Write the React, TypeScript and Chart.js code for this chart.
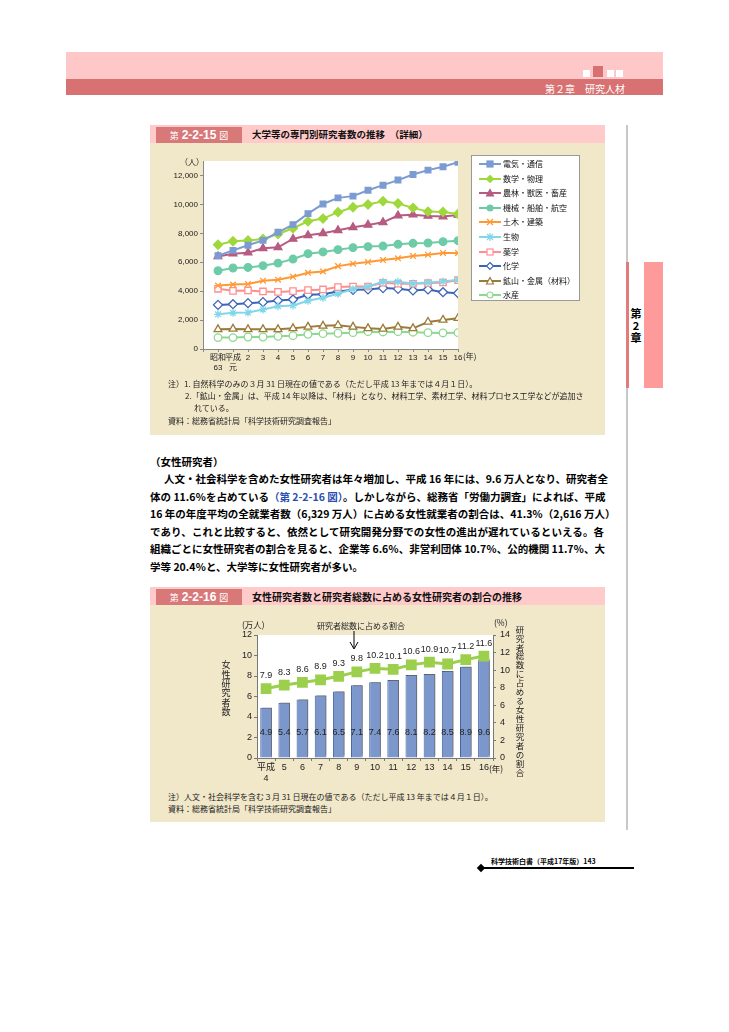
import React, { useEffect, useRef } from 'react';
import { Chart, registerables } from 'chart.js';
Chart.register(...registerables);

const FONT = "'Liberation Sans', 'Noto Sans CJK JP', sans-serif";
const JP = "'Noto Sans CJK JP', sans-serif";

// ---------- Chart 1 data (第2-2-15図) ----------
const years1: (string | string[])[] = [['昭和', '63'], ['平成', '元'], '2', '3', '4', '5', '6', '7', '8', '9', '10', '11', '12', '13', '14', '15', '16'];
const denkiTsushin = [6450, 6820, 7170, 7510, 8070, 8600, 9360, 10030, 10450, 10570, 10980, 11330, 11680, 12070, 12370, 12600, 12920];
const sugakuButsuri = [7210, 7450, 7510, 7610, 7950, 8350, 8830, 9020, 9460, 9800, 9990, 10220, 10060, 9760, 9500, 9480, 9340];
const norinJuiChikusan = [6400, 6590, 6660, 6960, 7030, 7610, 7860, 8000, 8210, 8420, 8580, 8760, 9230, 9290, 9200, 9160, 9270];
const kikaiSenpakuKoku = [5410, 5600, 5640, 5760, 5940, 6220, 6590, 6710, 6870, 7010, 7080, 7120, 7240, 7310, 7330, 7420, 7490];
const dobokuKenchiku = [4390, 4460, 4490, 4720, 4790, 4990, 5270, 5360, 5730, 5900, 6010, 6150, 6270, 6430, 6520, 6640, 6640];
const seibutsu = [2400, 2500, 2520, 2730, 2960, 3010, 3330, 3540, 3820, 4140, 4320, 4650, 4650, 4530, 4600, 4670, 4790];
const yakugaku = [4160, 4020, 4050, 3980, 3950, 4000, 4070, 4120, 4280, 4320, 4320, 4580, 4510, 4510, 4550, 4600, 4760];
const kagaku = [3050, 3100, 3170, 3240, 3350, 3420, 3750, 3790, 3980, 4090, 4120, 4210, 4160, 4050, 4120, 3930, 3860];
const kozanKinzoku = [1360, 1390, 1360, 1360, 1360, 1430, 1530, 1600, 1640, 1530, 1430, 1390, 1530, 1430, 1870, 2010, 2130];
const suisan = [790, 790, 830, 830, 880, 920, 1020, 1060, 1090, 1130, 1200, 1180, 1200, 1160, 1130, 1110, 1130];
const seriesNames1 = ['電気・通信', '数学・物理', '農林・獣医・畜産', '機械・船舶・航空', '土木・建築', '生物', '薬学', '化学', '鉱山・金属（材料）', '水産'];
const seriesData1 = [denkiTsushin, sugakuButsuri, norinJuiChikusan, kikaiSenpakuKoku, dobokuKenchiku, seibutsu, yakugaku, kagaku, kozanKinzoku, suisan];
const y1Ticks = [0, 2000, 4000, 6000, 8000, 10000, 12000];

// ---------- Chart 2 data (第2-2-16図) ----------
const years2: (string | string[])[] = [['平成', '4'], '5', '6', '7', '8', '9', '10', '11', '12', '13', '14', '15', '16'];
const womenResearchers = [4.9, 5.4, 5.7, 6.1, 6.5, 7.1, 7.4, 7.6, 8.1, 8.2, 8.5, 8.9, 9.6];
const womenShare = [7.9, 8.3, 8.6, 8.9, 9.3, 9.8, 10.2, 10.1, 10.6, 10.9, 10.7, 11.2, 11.6];

// styles for chart 1
const styles1 = [
  { color: '#7b9bd2', shape: 'rect', open: false, r: 4 },
  { color: '#9fd83c', shape: 'rectRot', open: false, r: 4.5 },
  { color: '#b65b82', shape: 'triangle', open: false, r: 4.5 },
  { color: '#6dcba8', shape: 'circle', open: false, r: 3.8 },
  { color: '#ff9933', shape: 'crossRot', open: false, r: 4 },
  { color: '#82d6ea', shape: 'star', open: false, r: 4 },
  { color: '#ff8f8f', shape: 'rect', open: true, r: 4.5 },
  { color: '#3d64b8', shape: 'rectRot', open: true, r: 4.5 },
  { color: '#9b7b38', shape: 'triangle', open: true, r: 4.5 },
  { color: '#8fd88f', shape: 'circle', open: true, r: 3.8 },
];

const whiteArea = {
  id: 'whiteArea',
  beforeDraw(chart: any) {
    const { ctx, chartArea: a } = chart;
    ctx.save();
    ctx.fillStyle = '#ffffff';
    ctx.fillRect(a.left, a.top, a.right - a.left, a.bottom - a.top);
    ctx.restore();
  },
};

function LegendIcon({ shape, color, open }: { shape: string; color: string; open: boolean }) {
  const cx = 11, cy = 5;
  const fill = open ? '#fff' : color;
  let m: any = null;
  if (shape === 'rect') m = <rect x={cx - 3} y={cy - 3} width={6} height={6} fill={fill} stroke={color} strokeWidth={1.2} />;
  else if (shape === 'rectRot') m = <polygon points={`${cx},${cy - 3.5} ${cx + 3.5},${cy} ${cx},${cy + 3.5} ${cx - 3.5},${cy}`} fill={fill} stroke={color} strokeWidth={1.2} />;
  else if (shape === 'triangle') m = <polygon points={`${cx},${cy - 3.5} ${cx + 3.5},${cy + 3} ${cx - 3.5},${cy + 3}`} fill={fill} stroke={color} strokeWidth={1.2} />;
  else if (shape === 'circle') m = <circle cx={cx} cy={cy} r={3} fill={fill} stroke={color} strokeWidth={1.2} />;
  else if (shape === 'crossRot') m = <path d={`M${cx - 3} ${cy - 3}L${cx + 3} ${cy + 3}M${cx + 3} ${cy - 3}L${cx - 3} ${cy + 3}`} stroke={color} strokeWidth={1.3} />;
  else if (shape === 'star') m = <path d={`M${cx - 3} ${cy - 3}L${cx + 3} ${cy + 3}M${cx + 3} ${cy - 3}L${cx - 3} ${cy + 3}M${cx} ${cy - 4}L${cx} ${cy + 4}M${cx - 4} ${cy}L${cx + 4} ${cy}`} stroke={color} strokeWidth={1.2} />;
  return (
    <svg width={22} height={10} style={{ display: 'block' }}>
      <line x1={0} y1={cy} x2={22} y2={cy} stroke={color} strokeWidth={2} />
      {m}
    </svg>
  );
}

function T({ x, y, size, children, bold, color, style }: any) {
  return (
    <div style={{ position: 'absolute', left: x, top: y - size * 0.75, fontSize: size, lineHeight: `${size * 1.5}px`, whiteSpace: 'nowrap', fontWeight: bold ? 700 : 400, color: color || '#222', fontFamily: JP, ...(style || {}) }}>
      {children}
    </div>
  );
}

// vertical text: each character stacked, centred on cx, first char centre at y0
function VText({ cx, y0, step, size, text, bold, color }: any) {
  return (
    <>
      {Array.from(text as string).map((ch, i) => (
        <div key={i} style={{ position: 'absolute', left: cx - 10, top: y0 + i * step - size * 0.75, width: 20, textAlign: 'center', fontSize: size, lineHeight: `${size * 1.5}px`, fontWeight: bold ? 700 : 400, color: color || '#222', fontFamily: JP }}>{ch}</div>
      ))}
    </>
  );
}

function ChartTitle({ top, num, title, titleSize }: any) {
  return (
    <>
      <div style={{ position: 'absolute', left: 150, top, width: 455, height: 18, background: '#ffcaca' }} />
      <div style={{ position: 'absolute', left: 156, top: top + 2, width: 86, height: 16, background: '#d87878', color: '#fff', fontFamily: JP, display: 'flex', alignItems: 'center', justifyContent: 'center', gap: 3 }}>
        <span style={{ fontSize: 9 }}>第</span>
        <span style={{ fontSize: 12, fontWeight: 700, fontFamily: FONT }}>{num}</span>
        <span style={{ fontSize: 9 }}>図</span>
      </div>
      <T x={252} y={top + 9} size={titleSize} bold color="#111">{title}</T>
    </>
  );
}

const paraLines = [
  { y: 479, indent: 14, text: <>人文・社会科学を含めた女性研究者は年々増加し、平成 16 年には、9.6 万人となり、研究者全</> },
  { y: 497, indent: 0, text: <>体の 11.6％を占めている<span style={{ color: '#2a4fb0' }}>（第 2-2-16 図）</span>。しかしながら、総務省「労働力調査」によれば、平成</> },
  { y: 514, indent: 0, text: <>16 年の年度平均の全就業者数（6,329 万人）に占める女性就業者の割合は、41.3％（2,616 万人）</> },
  { y: 532, indent: 0, text: <>であり、これと比較すると、依然として研究開発分野での女性の進出が遅れているといえる。各</> },
  { y: 549, indent: 0, text: <>組織ごとに女性研究者の割合を見ると、企業等 6.6％、非営利団体 10.7％、公的機関 11.7％、大</> },
];

export default function App() {
  const c1 = useRef<HTMLCanvasElement>(null);
  const c2 = useRef<HTMLCanvasElement>(null);

  useEffect(() => {
    const tickFont = { size: 8, family: FONT };
    const ch1 = new Chart(c1.current!, {
      type: 'line',
      data: {
        labels: ['', ...years1] as any,
        datasets: seriesData1.map((d, i) => ({
          label: seriesNames1[i],
          data: [null, ...d],
          borderColor: styles1[i].color,
          backgroundColor: styles1[i].open ? '#ffffff' : styles1[i].color,
          pointBorderColor: styles1[i].color,
          pointBackgroundColor: styles1[i].open ? '#ffffff' : styles1[i].color,
          pointStyle: styles1[i].shape as any,
          pointRadius: styles1[i].r,
          pointBorderWidth: 1.3,
          borderWidth: 2,
          tension: 0,
          clip: 0 as any,
        })),
      },
      options: {
        animation: false,
        responsive: false,
        maintainAspectRatio: false,
        layout: { padding: { top: 16, right: 147, left: 0, bottom: 0 } },
        plugins: { legend: { display: false }, tooltip: { enabled: false } },
        scales: {
          x: {
            offset: false,
            grid: { display: true, drawOnChartArea: false, tickLength: 3, color: '#888' },
            border: { display: true, color: '#888' },
            ticks: { autoSkip: false, maxRotation: 0, minRotation: 0, font: tickFont, color: '#222', padding: 1 },
            afterFit: (s: any) => { s.height = 31; },
          },
          y: {
            min: 0,
            max: 13000,
            grid: { display: true, drawOnChartArea: false, tickLength: 3, color: '#888' },
            border: { display: true, color: '#888' },
            ticks: { font: tickFont, color: '#222', padding: 2, callback: (v: any) => Number(v).toLocaleString('en-US') },
            afterBuildTicks: (s: any) => { s.ticks = y1Ticks.map((v) => ({ value: v })); },
            afterFit: (s: any) => { s.width = 53; },
          },
        },
      },
      plugins: [whiteArea],
    } as any);

    const barShadow = {
      id: 'barShadow',
      beforeDatasetDraw(chart: any, args: any) {
        if (chart.data.datasets[args.index].type === 'bar') {
          const c = chart.ctx;
          c.save();
          c.shadowColor = 'rgba(110,110,110,0.75)';
          c.shadowOffsetX = 2;
          c.shadowOffsetY = -2;
          c.shadowBlur = 0;
        }
      },
      afterDatasetDraw(chart: any, args: any) {
        if (chart.data.datasets[args.index].type === 'bar') chart.ctx.restore();
      },
    };
    const valueLabels = {
      id: 'valueLabels',
      afterDatasetsDraw(chart: any) {
        const ctx = chart.ctx;
        ctx.save();
        ctx.font = `9px ${FONT}`;
        ctx.textAlign = 'center';
        ctx.textBaseline = 'middle';
        ctx.fillStyle = '#222';
        const barMeta = chart.getDatasetMeta(1);
        const yLab = chart.scales.y.getPixelForValue(2.5);
        barMeta.data.forEach((el: any, i: number) => {
          ctx.fillText(womenResearchers[i].toFixed(1), el.x, yLab);
        });
        const lineMeta = chart.getDatasetMeta(0);
        lineMeta.data.forEach((el: any, i: number) => {
          ctx.fillText(womenShare[i].toFixed(1), el.x, el.y - 13);
        });
        ctx.restore();
      },
    };
    const tf2 = { size: 9, family: FONT };
    const ch2 = new Chart(c2.current!, {
      type: 'bar',
      data: {
        labels: years2 as any,
        datasets: [
          {
            type: 'line',
            label: '研究者総数に占める割合',
            data: womenShare,
            yAxisID: 'y2',
            borderColor: '#9ccf4c',
            backgroundColor: '#9ccf4c',
            pointBackgroundColor: '#9ccf4c',
            pointBorderColor: '#9ccf4c',
            pointStyle: 'rect',
            pointRadius: 5.5,
            borderWidth: 3,
            order: 0,
          },
          {
            type: 'bar',
            label: '女性研究者数',
            data: womenResearchers,
            yAxisID: 'y',
            backgroundColor: '#7b97cc',
            borderColor: '#3f5e9c',
            borderWidth: 1,
            barPercentage: 0.64,
            categoryPercentage: 1,
            order: 1,
          },
        ],
      },
      options: {
        animation: false,
        responsive: false,
        maintainAspectRatio: false,
        layout: { padding: { top: 31, right: 82, left: 0, bottom: 0 } },
        plugins: { legend: { display: false }, tooltip: { enabled: false } },
        scales: {
          x: {
            grid: { display: true, drawOnChartArea: false, tickLength: 3, color: '#777' },
            border: { display: true, color: '#777' },
            ticks: { autoSkip: false, maxRotation: 0, minRotation: 0, font: tf2, color: '#222', padding: 1 },
            afterFit: (s: any) => { s.height = 24; },
          },
          y: {
            position: 'left',
            min: 0,
            max: 12,
            grid: { display: true, drawOnChartArea: false, tickLength: 3, color: '#777' },
            border: { display: true, color: '#777' },
            ticks: { stepSize: 2, font: tf2, color: '#222', padding: 2 },
            afterFit: (s: any) => { s.width = 107; },
          },
          y2: {
            position: 'right',
            min: 0,
            max: 14,
            grid: { display: true, drawOnChartArea: false, tickLength: 3, color: '#777' },
            border: { display: true, color: '#777' },
            ticks: { stepSize: 2, font: tf2, color: '#222', padding: 4 },
            afterFit: (s: any) => { s.width = 30; },
          },
        },
      },
      plugins: [whiteArea, barShadow, valueLabels],
    } as any);

    return () => { ch1.destroy(); ch2.destroy(); };
  }, []);

  return (
    <div style={{ position: 'absolute', left: 0, top: 0, width: 729, height: 1032, background: '#fff', overflow: 'hidden', fontFamily: JP }}>
      {/* header */}
      <div style={{ position: 'absolute', left: 66, top: 52, width: 597, height: 27, background: '#ffc8c8' }} />
      <div style={{ position: 'absolute', left: 66, top: 79, width: 597, height: 16, background: '#d87272' }} />
      <div style={{ position: 'absolute', left: 583, top: 70, width: 7, height: 7, background: '#fff' }} />
      <div style={{ position: 'absolute', left: 593, top: 66, width: 10, height: 11, background: '#d87272' }} />
      <div style={{ position: 'absolute', left: 607, top: 70, width: 7, height: 7, background: '#fff' }} />
      <div style={{ position: 'absolute', left: 616, top: 70, width: 7, height: 7, background: '#fff' }} />
      <T x={545} y={88} size={10} color="#fff">第２章　研究人材</T>

      {/* right side bar */}
      <div style={{ position: 'absolute', left: 626, top: 125, width: 2, height: 705, background: '#c8c8c8' }} />
      <div style={{ position: 'absolute', left: 626, top: 262, width: 3, height: 126, background: '#e07c7c' }} />
      <div style={{ position: 'absolute', left: 644, top: 262, width: 19, height: 126, background: '#ff9a9a' }} />
      <VText cx={636} y0={313} step={12} size={11} text="第2章" bold color="#000" />

      {/* chart 1 box */}
      <div style={{ position: 'absolute', left: 150, top: 125, width: 455, height: 310, background: '#f1e7c9' }} />
      <ChartTitle top={125} num="2-2-15" title="大学等の専門別研究者数の推移　（詳細）" titleSize={9.5} />
      <canvas ref={c1} width={455} height={235} style={{ position: 'absolute', left: 150, top: 145, width: 455, height: 235 }} />
      <T x={180} y={162} size={8}>（人）</T>
      <T x={463} y={356} size={8}>(年)</T>
      <div style={{ position: 'absolute', left: 471, top: 155, width: 107, height: 144, background: '#fff', border: '1px solid #999' }}>
        {seriesNames1.map((n, i) => (
          <div key={n} style={{ position: 'absolute', left: 7, top: 3 + i * 14.6, height: 10, display: 'flex', alignItems: 'center' }}>
            <LegendIcon shape={styles1[i].shape} color={styles1[i].color} open={styles1[i].open} />
            <span style={{ fontSize: 8, marginLeft: 2, whiteSpace: 'nowrap', color: '#111', lineHeight: '10px' }}>{n}</span>
          </div>
        ))}
      </div>
      <T x={168} y={384} size={8}>注）1. 自然科学のみの３月 31 日現在の値である（ただし平成 13 年までは４月１日）。</T>
      <T x={185} y={396} size={8}>2.「鉱山・金属」は、平成 14 年以降は、「材料」となり、材料工学、素材工学、材料プロセス工学などが追加さ</T>
      <T x={194} y={408} size={8}>れている。</T>
      <T x={168} y={421} size={8}>資料：総務省統計局「科学技術研究調査報告」</T>

      {/* paragraph */}
      <T x={150} y={462} size={10.5} bold color="#000">（女性研究者）</T>
      {paraLines.map((l, i) => (
        <div key={i} style={{ position: 'absolute', left: 150 + l.indent, top: l.y - 9, width: 454 - l.indent, fontSize: 10.5, lineHeight: '18px', fontWeight: 700, textAlign: 'justify', textAlignLast: 'justify', whiteSpace: 'nowrap', color: '#000' } as any}>{l.text}</div>
      ))}
      <T x={150} y={567} size={10.5} bold color="#000">学等 20.4％と、大学等に女性研究者が多い。</T>

      {/* chart 2 box */}
      <div style={{ position: 'absolute', left: 150, top: 587, width: 455, height: 235, background: '#f1e7c9' }} />
      <ChartTitle top={587} num="2-2-16" title="女性研究者数と研究者総数に占める女性研究者の割合の推移" titleSize={10} />
      <canvas ref={c2} width={455} height={178} style={{ position: 'absolute', left: 150, top: 604, width: 455, height: 178 }} />
      <T x={242} y={624} size={8.5}>(万人)</T>
      <T x={494} y={622} size={8.5}>(%)</T>
      <T x={489} y={768} size={8.5}>(年)</T>
      <T x={317} y={626} size={8}>研究者総数に占める割合</T>
      <svg width={12} height={22} style={{ position: 'absolute', left: 348, top: 631 }}>
        <line x1={6} y1={0} x2={6} y2={17} stroke="#000" strokeWidth={1} />
        <polyline points="2,11 6,18 10,11" fill="none" stroke="#000" strokeWidth={1} />
      </svg>
      <VText cx={226} y0={665} step={9.4} size={9} text="女性研究者数" />
      <VText cx={520} y0={629} step={8.94} size={8.5} text="研究者総数に占める女性研究者の割合" />
      <T x={168} y={797} size={8}>注）人文・社会科学を含む３月 31 日現在の値である（ただし平成 13 年までは４月１日）。</T>
      <T x={168} y={809} size={8}>資料：総務省統計局「科学技術研究調査報告」</T>

      {/* footer */}
      <T x={491} y={861} size={7} bold color="#000">科学技術白書（平成17年版）143</T>
      <div style={{ position: 'absolute', left: 481, top: 867, width: 153, height: 2, background: '#000' }} />
      <div style={{ position: 'absolute', left: 478, top: 865, width: 6, height: 6, background: '#000', transform: 'rotate(45deg)' }} />
    </div>
  );
}
